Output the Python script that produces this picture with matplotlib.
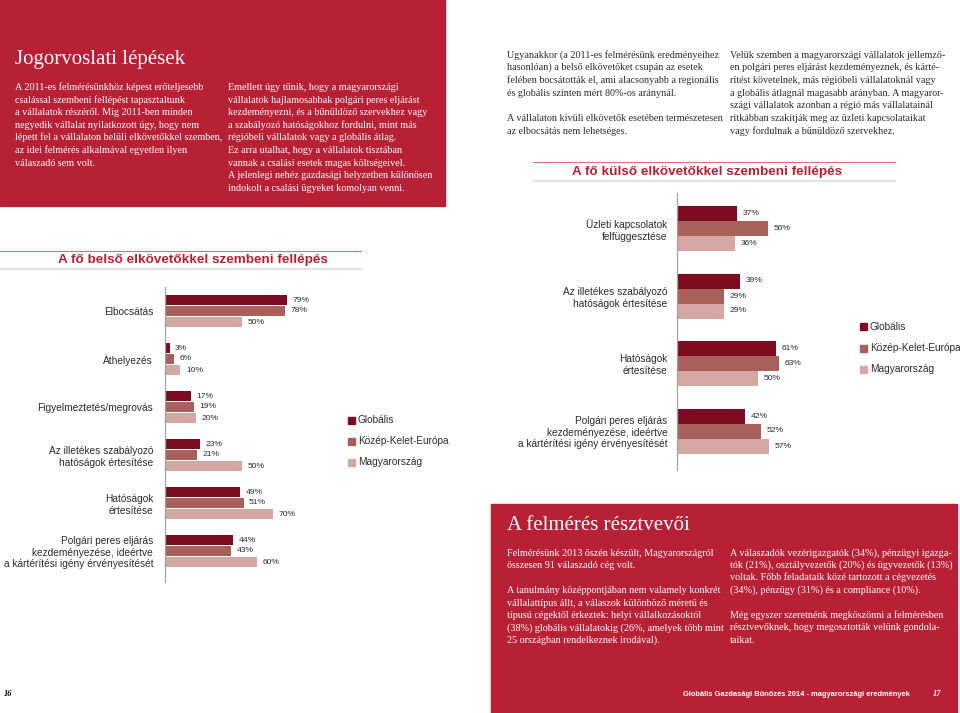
import matplotlib
matplotlib.use("Agg")
import matplotlib.pyplot as plt
import numpy as np
from matplotlib.patches import Rectangle
from matplotlib.lines import Line2D

# ---- data ----
series = ["Globális", "Közép-Kelet-Európa", "Magyarország"]
colors = ["#7e0b1f", "#a8605a", "#d4a7a2"]

belso_cats = ["Elbocsátás", "Áthelyezés", "Figyelmeztetés/megrovás",
              "Az illetékes szabályozó\nhatóságok értesítése",
              "Hatóságok\nértesítése",
              "Polgári peres eljárás\nkezdeményezése, ideértve\na kártérítési igény érvényesítését"]
belso_glob = [79, 3, 17, 23, 49, 44]
belso_kke = [78, 6, 19, 21, 51, 43]
belso_hu = [50, 10, 20, 50, 70, 60]

kulso_cats = ["Üzleti kapcsolatok\nfelfüggesztése",
              "Az illetékes szabályozó\nhatóságok értesítése",
              "Hatóságok\nértesítése",
              "Polgári peres eljárás\nkezdeményezése, ideértve\na kártérítési igény érvényesítését"]
kulso_glob = [37, 39, 61, 42]
kulso_kke = [56, 29, 63, 52]
kulso_hu = [36, 29, 50, 57]

W, H = 960, 713
RED = "#b82035"
TXT = "#2b2b2b"


def fx(x):
    return x / W


def fy(y):
    return 1 - y / H


fig = plt.figure(figsize=(9.6, 7.13), dpi=100)
fig.patch.set_facecolor("white")

# red boxes
fig.add_artist(Rectangle((fx(0), fy(206)), fx(445), 206 / H, transform=fig.transFigure,
                         color=RED, zorder=0))
fig.add_artist(Rectangle((fx(491), fy(713)), fx(957 - 491), (713 - 504) / H,
                         transform=fig.transFigure, color=RED, zorder=0))

serif = "Liberation Serif"
sans = "Liberation Sans"


def block(x, y0, lines, color, dy=12.6, size=7.3):
    for i, s in enumerate(lines):
        if s:
            fig.text(fx(x), fy(y0 + i * dy), s, family=serif, fontsize=size,
                     color=color, va="baseline", ha="left")


fig.text(fx(15), fy(64), "Jogorvoslati lépések", family=serif, fontsize=15,
         color="white", va="baseline")
block(15, 90, ["A 2011-es felmérésünkhöz képest erőteljesebb",
               "csalással szembeni fellépést tapasztaltunk",
               "a vállalatok részéről. Míg 2011-ben minden",
               "negyedik vállalat nyilatkozott úgy, hogy nem",
               "lépett fel a vállalaton belüli elkövetőkkel szemben,",
               "az idei felmérés alkalmával egyetlen ilyen",
               "válaszadó sem volt."], "white")
block(228, 90, ["Emellett úgy tűnik, hogy a magyarországi",
                "vállalatok hajlamosabbak polgári peres eljárást",
                "kezdeményezni, és a bűnüldöző szervekhez vagy",
                "a szabályozó hatóságokhoz fordulni, mint más",
                "régióbeli vállalatok vagy a globális átlag.",
                "Ez arra utalhat, hogy a vállalatok tisztában",
                "vannak a csalási esetek magas költségeivel.",
                "A jelenlegi nehéz gazdasági helyzetben különösen",
                "indokolt a csalási ügyeket komolyan venni."], "white")
block(507, 57.5, ["Ugyanakkor (a 2011-es felmérésünk eredményeihez",
                  "hasonlóan) a belső elkövetőket csupán az esetek",
                  "felében bocsátották el, ami alacsonyabb a regionális",
                  "és globális szinten mért 80%-os aránynál.",
                  "",
                  "A vállalaton kívüli elkövetők esetében természetesen",
                  "az elbocsátás nem lehetséges."], TXT, dy=12.7)
block(730, 57.5, ["Velük szemben a magyarországi vállalatok jellemző-",
                  "en polgári peres eljárást kezdeményeznek, és kárté-",
                  "rítést követelnek, más régióbeli vállalatoknál vagy",
                  "a globális átlagnál magasabb arányban. A magyaror-",
                  "szági vállalatok azonban a régió más vállalatainál",
                  "ritkábban szakítják meg az üzleti kapcsolataikat",
                  "vagy fordulnak a bűnüldöző szervekhez."], TXT, dy=12.7)

fig.text(fx(507), fy(530), "A felmérés résztvevői", family=serif, fontsize=15,
         color="white", va="baseline")
block(507, 555.5, ["Felmérésünk 2013 őszén készült, Magyarországról",
                   "összesen 91 válaszadó cég volt.",
                   "",
                   "A tanulmány középpontjában nem valamely konkrét",
                   "vállalattípus állt, a válaszok különböző méretű és",
                   "típusú cégektől érkeztek: helyi vállalkozásoktól",
                   "(38%) globális vállalatokig (26%, amelyek több mint",
                   "25 országban rendelkeznek irodával)."], "white", dy=12.5)
block(730, 555.5, ["A válaszadók vezérigazgatók (34%), pénzügyi igazga-",
                   "tók (21%), osztályvezetők (20%) és ügyvezetők (13%)",
                   "voltak. Főbb feladataik közé tartozott a cégvezetés",
                   "(34%), pénzügy (31%) és a compliance (10%).",
                   "",
                   "Még egyszer szeretnénk megköszönni a felmérésben",
                   "résztvevőknek, hogy megosztották velünk gondola-",
                   "taikat."], "white", dy=12.5)

fig.text(fx(910), fy(696), "Globális Gazdasági Bűnözés 2014 - magyarországi eredmények",
         family=sans, fontsize=5.4, weight="bold", color="white", ha="right", va="baseline")
fig.text(fx(937), fy(696), "17", family=serif, fontsize=6, style="italic", weight="bold",
         color="white", ha="center", va="baseline")
fig.text(fx(8), fy(696), "16", family=serif, fontsize=6, style="italic", weight="bold",
         color="black", ha="center", va="baseline")


# chart titles with rules
def chart_title(text, xc, y, x0, x1, ytop, ybot):
    fig.text(fx(xc), fy(y), text, family=sans, fontsize=9.7, weight="bold",
             color=RED, ha="center", va="center")
    fig.add_artist(Line2D([fx(x0), fx(x1)], [fy(ytop)] * 2, color="#d9707e", lw=0.8,
                          transform=fig.transFigure))
    fig.add_artist(Line2D([fx(x0), fx(x1)], [fy(ybot)] * 2, color="#e3e3e3", lw=1.6,
                          transform=fig.transFigure))


chart_title("A fő belső elkövetőkkel szembeni fellépés", 193, 260, 0, 361, 251, 269)
chart_title("A fő külső elkövetőkkel szembeni fellépés", 707, 172, 533, 895, 162, 181)


def bar_chart(rect, cats, vals, pitch, bh, top_pad, bot_pad, pad):
    ax = fig.add_axes(rect)
    n = len(cats)
    y = np.arange(n)
    for k, v in enumerate(vals):
        pos = y + (k - 1) * pitch
        ax.barh(pos, v, height=bh, color=colors[k], zorder=2)
        for p, val in zip(pos, v):
            ax.annotate(f"{val}%", (val, p), xytext=(4, 0), textcoords="offset points",
                        va="center", ha="left", fontsize=6.1, family=sans, color=TXT,
                        annotation_clip=False)
    ax.set_xlim(0, 100)
    ax.set_ylim(n - 1 + bot_pad, -top_pad)
    ax.set_yticks(y)
    ax.set_yticklabels(cats, family=sans, fontsize=7.3, color=TXT)
    ax.tick_params(axis="y", length=0, pad=pad)
    ax.set_xticks([])
    for s in ["top", "right", "bottom"]:
        ax.spines[s].set_visible(False)
    ax.spines["left"].set_color("#a0a0a0")
    ax.spines["left"].set_linewidth(0.9)
    ax.patch.set_alpha(0)
    return ax


# left chart: axis at x=165, 1.54 px per %, groups every 48 px
bar_chart([fx(165), fy(582), 154 / W, (582 - 287) / H], belso_cats,
          [belso_glob, belso_kke, belso_hu], pitch=11 / 48, bh=10 / 48,
          top_pad=24 / 48, bot_pad=31 / 48, pad=8.5)
# right chart: axis at x=677, 1.62 px per %, groups every 67.5 px
bar_chart([fx(677), fy(470), 162 / W, (470 - 193) / H], kulso_cats,
          [kulso_glob, kulso_kke, kulso_hu], pitch=15 / 67.5, bh=15 / 67.5,
          top_pad=35.5 / 67.5, bot_pad=39 / 67.5, pad=7)


def legend(xs, xt, ys):
    for c, name, yy in zip(colors, series, ys):
        fig.add_artist(Rectangle((fx(xs), fy(yy + 3.5)), 7 / W, 7 / H,
                                 transform=fig.transFigure, color=c))
        fig.text(fx(xt), fy(yy), name, family=sans, fontsize=7.3, color=TXT,
                 va="center", ha="left")


legend(348, 358, [420, 441, 462])
legend(860, 870, [327, 348, 369])

fig.savefig("out.png", dpi=100)
